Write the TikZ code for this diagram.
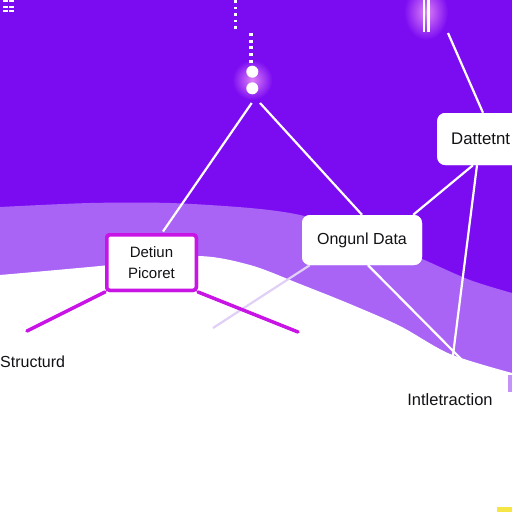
\documentclass[tikz,border=0pt]{standalone}
\usepackage{fontspec}
\setmainfont{Liberation Sans}
\usetikzlibrary{calc}
\definecolor{darkp}{RGB}{123,12,242}
\definecolor{lightp}{RGB}{170,100,245}
\definecolor{magp}{RGB}{200,20,228}
\definecolor{glowp}{RGB}{222,130,246}
\definecolor{faintl}{RGB}{224,208,246}
\definecolor{ink}{RGB}{18,18,22}
\definecolor{yel}{RGB}{245,230,70}
\begin{document}
\begin{tikzpicture}[x=1pt,y=-1pt,
  wline/.style={white,line width=2.2pt},
  mline/.style={magp,line width=3.5pt,line cap=round},
  fline/.style={faintl,line width=2.2pt},
  wbox/.style={fill=white,rounded corners=8pt,inner sep=0pt,text=ink,font=\fontsize{16}{19}\selectfont},
  datbox/.style={wbox,anchor=west,minimum height=52pt,inner xsep=14pt,font=\fontsize{16.8}{19}\selectfont},
  detbox/.style={draw=magp,line width=3.5pt,fill=white,rounded corners=3pt,inner sep=0pt,
    minimum width=89.5pt,minimum height=55.5pt,align=center,text=ink,font=\fontsize{15}{21}\selectfont},
  dotnode/.style={circle,fill=white,inner sep=0pt,minimum size=12pt},
  lbl/.style={text=ink,inner sep=0pt,font=\fontsize{16}{19}\selectfont}]
\useasboundingbox (0,0) rectangle (512,512);
\clip (0,0) rectangle (512,512);
% background bands
\fill[darkp] (0,0) rectangle (512,512);
\fill[lightp] plot[smooth] coordinates {(0,207) (90,203) (170,203) (250,208) (300,215) (360,232) (420,258) (470,280) (512,293)} -- (512,512) -- (0,512) -- cycle;
\fill[white] plot[smooth] coordinates {(0,275) (100,266) (195,256) (250,265) (300,284) (350,304) (400,326) (450,354) (512,373)} -- (512,512) -- (0,512) -- cycle;
\fill[lightp!70] (508,375) rectangle (512,392);
\fill[yel] (497,507) rectangle (512,512);
% glows
\shade[inner color=glowp,outer color=darkp] (252.3,80) circle (20);
\shade[inner color=glowp,outer color=darkp] (426,12) ellipse (22 and 28);
% top-left dashes
\foreach \yy/\hh in {0/2,6/1.8,10/2}{
  \fill[white] (3,\yy) rectangle (7.5,\yy+\hh);
  \fill[white] (9,\yy) rectangle (13.5,\yy+\hh);
}
% dashed vertical lines
\draw[white,line width=3pt,dash pattern=on 2.5pt off 4pt] (235,0) -- (235,29);
\draw[white,line width=4pt,dash pattern=on 3pt off 3.7pt] (250.5,33) -- (250.5,64);
% top-right double lines
\draw[white,line width=2.4pt] (424,0) -- (424,32);
\draw[white,line width=2.4pt] (428.6,0) -- (428.6,32);
% nodes
\node[dotnode] (c1) at (252.3,71.7) {};
\node[dotnode] (c2) at (252.3,88.3) {};
\node[detbox] (det) at (151.5,262.5) {Detiun\\Picoret};
\node[wbox,minimum width=120pt,minimum height=50pt] (ong) at (362,240) {Ongunl Data};
\node[datbox] (dat) at (437,139) {Dattetnt};
\coordinate (topr) at (448,33);
\node[lbl,anchor=west] (st) at (0,362) {Structurd};
\node[lbl,font=\fontsize{16.5}{19}\selectfont] (it) at (450,399.5) {Intletraction};
\coordinate (dl) at (27,331);
\coordinate (dr) at (298,332);
\coordinate (fe) at (213,328);
\coordinate (oe) at (470,368);
\coordinate (ve) at (452,363);
% connectors
\draw[wline] ($(c2)+(-0.6,14.7)$) -- ($(det.north)+(11.5,-1.5)$);
\draw[wline] ($(c2)+(7.7,14.7)$) -- (ong.north);
\draw[wline] (topr) -- ($(dat.north west)+(46,0)$);
\draw[wline] ($(dat.south west)+(36,0)$) -- ($(ong.north east)+(-9,0)$);
\draw[wline] ($(dat.south west)+(40,0)$) -- (ve);
\draw[fline] ($(ong.south west)+(8,0)$) -- (fe);
\draw[wline] ($(ong.south)+(6,0)$) -- (oe);
\draw[mline] (det.south west) -- (dl);
\draw[mline] (det.south east) -- (dr);
% redraw boxes over connector ends
\node[detbox] at (det) {Detiun\\Picoret};
\node[wbox,minimum width=120pt,minimum height=50pt] at (ong) {Ongunl Data};
\node[datbox] at (437,139) {Dattetnt};
\end{tikzpicture}
\end{document}
